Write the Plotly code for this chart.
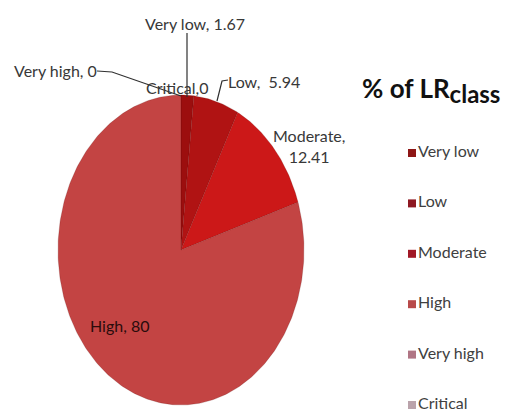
import numpy as np
import plotly.graph_objects as go

# Share of each LR class (%)
categories = ["Very low", "Low", "Moderate", "High", "Very high", "Critical"]
values = [1.67, 5.94, 12.41, 80, 0, 0]
slice_colors = ["#9c0e0e", "#b01313", "#cc1818", "#c34443", "#b8707e", "#bca4ac"]
legend_colors = ["#8e1616", "#8e1822", "#a11826", "#b84a4a", "#b07584", "#baa3ab"]

W, H = 508, 418
FONT = "Lato"
LABEL_SIZE = 16

# Elliptical pie geometry (canvas units, y grows downward)
cx, cy, rx, ry = 181, 250, 123, 155

fig = go.Figure()

total = sum(values)
start = 0.0
for name, v, col in zip(categories, values, slice_colors):
    if v <= 0:
        start += v
        continue
    a0 = start / total * 2 * np.pi
    a1 = (start + v) / total * 2 * np.pi
    t = np.linspace(a0, a1, max(4, int(v * 4)))
    xs = np.concatenate([[cx], cx + rx * np.sin(t), [cx]])
    ys = np.concatenate([[cy], cy - ry * np.cos(t), [cy]])
    fig.add_trace(go.Scatter(
        x=xs, y=ys, mode="lines", fill="toself", fillcolor=col,
        line=dict(color="rgba(90,10,10,0.35)", width=0.6),
        hoverinfo="skip", showlegend=False,
    ))
    start += v

# Legend: small squares with class names
leg_x, leg_y0, leg_dy = 412, 153, 50.4
fig.add_trace(go.Scatter(
    x=[leg_x] * len(categories),
    y=[leg_y0 + i * leg_dy for i in range(len(categories))],
    mode="markers+text",
    marker=dict(symbol="square", size=8, color=legend_colors),
    text=categories, textposition="middle right",
    textfont=dict(family=FONT, size=LABEL_SIZE, color="#404040"),
    hoverinfo="skip", showlegend=False,
))

# Data labels
labels = [
    dict(text=f"{categories[0]}, {values[0]}", x=195, y=23),
    dict(text=f"{categories[4]}, {values[4]}", x=55, y=70),
    dict(text=f"{categories[5]},{values[5]}", x=177, y=87),
    dict(text=f"{categories[1]},  {values[1]}", x=264, y=81),
    dict(text=f"{categories[2]},<br>{values[2]}", x=309, y=146),
    dict(text=f"{categories[3]}, {values[3]}", x=119, y=325, color="#2a0c0c"),
]
annotations = []
for lb in labels:
    annotations.append(dict(
        x=lb["x"], y=lb["y"], xref="x", yref="y", text=lb["text"],
        showarrow=False, align="center",
        font=dict(family=FONT, size=LABEL_SIZE, color=lb.get("color", "#383838")),
    ))

annotations.append(dict(
    x=502, y=90, xref="x", yref="y", showarrow=False, xanchor="right",
    text="<b>% of LR<sub><span style='font-size:24px'>class</span></sub></b>",
    font=dict(family=FONT, size=26, color="#111111"),
))

# Leader lines
leaders = [
    [(187, 33), (187, 97)],
    [(97, 71), (112, 72), (181, 96)],
    [(217, 101), (222, 81), (228, 80)],
]
shapes = []
for pts in leaders:
    path = "M " + " L ".join(f"{px},{py}" for px, py in pts)
    shapes.append(dict(type="path", path=path, xref="x", yref="y",
                       line=dict(color="#303030", width=1.2)))

fig.update_layout(
    width=W, height=H,
    margin=dict(l=0, r=0, t=0, b=0),
    paper_bgcolor="white", plot_bgcolor="white",
    xaxis=dict(range=[0, W], visible=False, fixedrange=True),
    yaxis=dict(range=[H, 0], visible=False, fixedrange=True),
    annotations=annotations, shapes=shapes,
)

fig.write_html("out.html")
